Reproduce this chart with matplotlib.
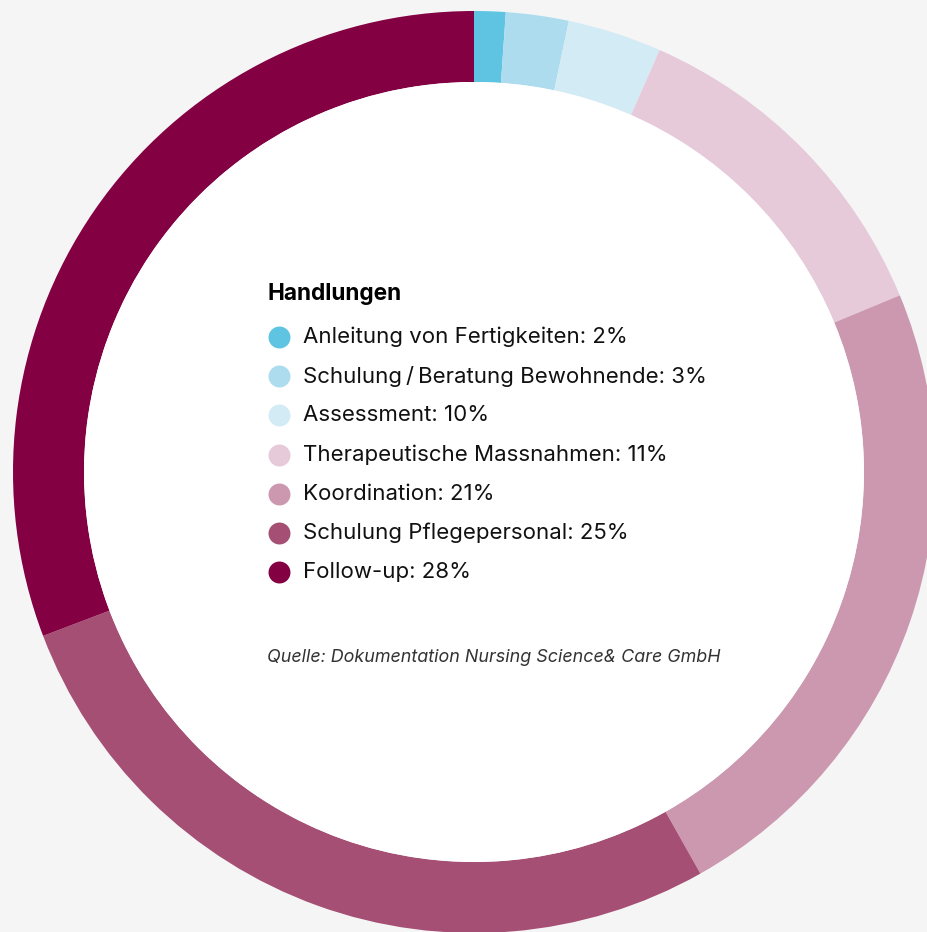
import matplotlib
matplotlib.use("Agg")
import matplotlib.pyplot as plt
from matplotlib.patches import Circle

# slice sizes as drawn in the ring (percent)
shares = [1.1, 2.2, 3.3, 12.15, 23.1, 27.4, 30.8]
categories = [
    "Anleitung von Fertigkeiten",
    "Schulung\u2009/\u2009Beratung Bewohnende",
    "Assessment",
    "Therapeutische Massnahmen",
    "Koordination",
    "Schulung Pflegepersonal",
    "Follow-up",
]
label_pct = [2, 3, 10, 11, 21, 25, 28]
colors = ["#5EC4E2", "#ADDCEE", "#D3EBF5", "#E6CAD9", "#CC98B0", "#A54F74", "#830042"]

plt.rcParams["font.family"] = ["Inter", "DejaVu Sans"]

W, H = 928, 932
fig = plt.figure(figsize=(W / 100, H / 100), dpi=100, facecolor="#F5F5F5")
ax = fig.add_axes([0, 0, 1, 1])
ax.set_facecolor("#F5F5F5")

cx, cy = 474, H - 472
r_out, r_in = 461, 390
ax.pie(shares, colors=colors, startangle=90, counterclock=False,
       radius=r_out, center=(cx, cy),
       wedgeprops=dict(width=r_out - r_in, linewidth=0))
ax.add_patch(Circle((cx, cy), r_in, facecolor="white", edgecolor="none"))

ax.set_xlim(0, W)
ax.set_ylim(0, H)
ax.set_aspect("equal")
ax.axis("off")

# legend block inside the hole
ax.text(268, H - 294, "Handlungen", fontsize=16.3, fontweight="bold",
        color="#000000", va="center", ha="left")
y0, step = 337, 39.2
for i, (name, pct, c) in enumerate(zip(categories, label_pct, colors)):
    y = H - (y0 + i * step)
    ax.scatter([279], [y], s=250, color=c, linewidths=0, zorder=3)
    ax.text(303, y, f"{name}: {pct}%", fontsize=16, color="#111111",
            va="center", ha="left")

ax.text(267, H - 658, "Quelle: Dokumentation Nursing Science& Care GmbH",
        fontsize=12.9, style="italic", color="#333333", va="center", ha="left")

fig.savefig("out.png", dpi=100, facecolor=fig.get_facecolor())
plt.close(fig)
